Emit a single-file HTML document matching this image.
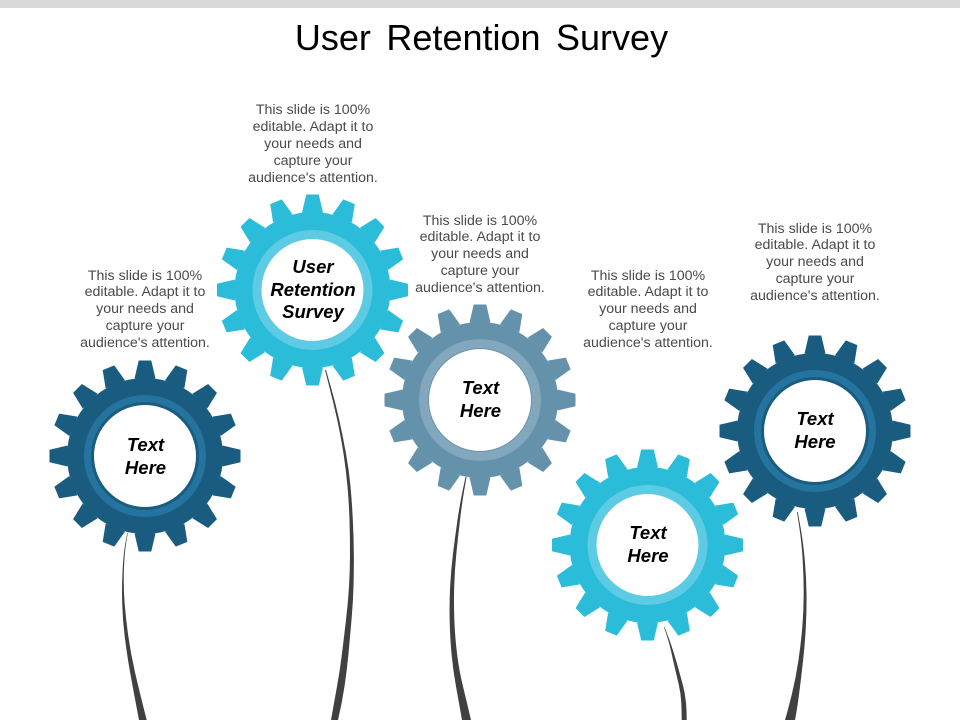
<!DOCTYPE html>
<html><head><meta charset="utf-8"><style>
html,body{margin:0;padding:0;background:#fff}
svg{display:block}
.t{font-family:"Liberation Sans",sans-serif;font-size:36px;fill:#000;word-spacing:5.5px}
.b{font-family:"Liberation Sans",sans-serif;font-size:14.2px;fill:#4a4a4a;text-anchor:middle}
.l{font-family:"Liberation Sans",sans-serif;font-size:18.5px;font-weight:bold;font-style:italic;fill:#000;text-anchor:middle}
</style></head><body>
<svg width="960" height="720" viewBox="0 0 960 720" xmlns="http://www.w3.org/2000/svg">
<defs>
<g id="gear">
<circle r="78"/>
<polygon id="tooth" points="-10.500,-77.500 -6.250,-95.500 6.250,-95.500 10.500,-77.500"/>
<use href="#tooth" transform="rotate(22.5)"/><use href="#tooth" transform="rotate(45)"/><use href="#tooth" transform="rotate(67.5)"/>
<use href="#tooth" transform="rotate(90)"/><use href="#tooth" transform="rotate(112.5)"/><use href="#tooth" transform="rotate(135)"/>
<use href="#tooth" transform="rotate(157.5)"/><use href="#tooth" transform="rotate(180)"/><use href="#tooth" transform="rotate(202.5)"/>
<use href="#tooth" transform="rotate(225)"/><use href="#tooth" transform="rotate(247.5)"/><use href="#tooth" transform="rotate(270)"/>
<use href="#tooth" transform="rotate(292.5)"/><use href="#tooth" transform="rotate(315)"/><use href="#tooth" transform="rotate(337.5)"/>
</g>
</defs>
<rect width="960" height="720" fill="#fff"/>
<rect width="960" height="8" fill="#d9d9d9"/>
<text class="t" x="481.5" y="50" text-anchor="middle">User Retention Survey</text>

<g fill="#404040">
<path d="M127.3,533 L125.4,543 Q123.5,553 122.6,570 Q121.7,587 122.2,603.5 Q122.7,620 124.7,636.5 Q126.7,653 129.7,670 Q132.7,687 139,720 L146.7,720 Q138.3,687 134.5,670 Q130.7,653 128.35,636.5 Q126,620 124.65,603.5 Q123.3,587 123.9,570 Q124.5,553 126.15,543 L127.8,533Z"/>
<path d="M325,370 L329.25,386.5 Q333.5,403 337.25,420 Q341,437 343.5,453.5 Q346,470 347.5,486.5 Q349,503 349.5,520 Q350,537 350,553.5 Q350,570 349,586.5 Q348,603 346,620 Q344,637 342,653.5 Q340,670 337,686.5 Q334,703 331,720 L338,720 Q342,703 344.5,686.5 Q347,670 348.5,653.5 Q350,637 351.5,620 Q353,603 353.5,586.5 Q354,570 353.85,553.5 Q353.7,537 352.85,520 Q352,503 350.5,486.5 Q349,470 346,453.5 Q343,437 339.25,420 Q335.5,403 330.75,386.5 L326,370Z"/>
<path d="M465.5,477 L462.75,490 Q460,503 457.5,520 Q455,537 453,553.5 Q451,570 450.15,586.5 Q449.3,603 449.65,620 Q450,637 451.5,653.5 Q453,670 456,686.5 Q459,703 462,720 L471,720 Q467,703 463,686.5 Q459,670 457,653.5 Q455,637 454.35,620 Q453.7,603 454.2,586.5 Q454.7,570 456.35,553.5 Q458,537 460,520 Q462,503 464.25,490 L466.5,477Z"/>
<path d="M664,627 L666.65,635 Q669.3,643 671.15,651.5 Q673,660 675,668.5 Q677,677 678.85,685 Q680.7,693 681.2,701.5 Q681.7,710 681.7,720 L686.7,720 Q686.7,710 685.85,701.5 Q685,693 682.85,685 Q680.7,677 678.35,668.5 Q676,660 673.35,651.5 Q670.7,643 667.6,635 L664.5,627Z"/>
<path d="M797,512 L799.35,527.5 Q801.7,543 802.7,560 Q803.7,577 803.7,593.5 Q803.7,610 802.35,626.5 Q801,643 798.5,660 Q796,677 792,693.5 Q788,710 785,720 L795,720 Q797,710 799.15,693.5 Q801.3,677 803.15,660 Q805,643 805.85,626.5 Q806.7,610 806.5,593.5 Q806.3,577 804.8,560 Q803.3,543 800.55,527.5 L797.8,512Z"/>
</g>

<g transform="translate(145,456)" fill="#1a5c7f"><use href="#gear"/><circle r="57.5" fill="none" stroke="#24749f" stroke-width="7"/><circle r="51" fill="#fff"/></g>
<g transform="translate(312.500,290)" fill="#2bbcd9"><use href="#gear"/><circle r="55.5" fill="none" stroke="#5ccbe3" stroke-width="9"/><circle r="51" fill="#fff"/></g>
<g transform="translate(480,400)" fill="#6592ab"><use href="#gear"/><circle r="56.5" fill="none" stroke="#83a8bd" stroke-width="9"/><circle r="51" fill="#fff"/></g>
<g transform="translate(647.500,545)" fill="#2bbcd9"><use href="#gear"/><circle r="55.5" fill="none" stroke="#5ccbe3" stroke-width="9"/><circle r="51" fill="#fff"/></g>
<g transform="translate(815,431)" fill="#1a5c7f"><use href="#gear"/><circle r="57.5" fill="none" stroke="#24749f" stroke-width="7"/><circle r="51" fill="#fff"/></g>

<text class="l" x="145.500" y="451">Text</text><text class="l" x="145.500" y="474">Here</text>
<text class="l" x="313" y="273">User</text><text class="l" x="313" y="296">Retention</text><text class="l" x="313" y="318">Survey</text>
<text class="l" x="480.500" y="394">Text</text><text class="l" x="480.500" y="417">Here</text>
<text class="l" x="648" y="539">Text</text><text class="l" x="648" y="562">Here</text>
<text class="l" x="815" y="425">Text</text><text class="l" x="815" y="448">Here</text>

<text class="b" x="145" y="280">This slide is 100%</text><text class="b" x="145" y="296">editable. Adapt it to</text><text class="b" x="145" y="313">your needs and</text><text class="b" x="145" y="330">capture your</text><text class="b" x="145" y="347">audience's attention.</text>
<text class="b" x="313" y="114">This slide is 100%</text><text class="b" x="313" y="131">editable. Adapt it to</text><text class="b" x="313" y="148">your needs and</text><text class="b" x="313" y="165">capture your</text><text class="b" x="313" y="182">audience's attention.</text>
<text class="b" x="480" y="225">This slide is 100%</text><text class="b" x="480" y="241">editable. Adapt it to</text><text class="b" x="480" y="258">your needs and</text><text class="b" x="480" y="275">capture your</text><text class="b" x="480" y="292">audience's attention.</text>
<text class="b" x="648" y="280">This slide is 100%</text><text class="b" x="648" y="296">editable. Adapt it to</text><text class="b" x="648" y="313">your needs and</text><text class="b" x="648" y="330">capture your</text><text class="b" x="648" y="347">audience's attention.</text>
<text class="b" x="815" y="233">This slide is 100%</text><text class="b" x="815" y="249">editable. Adapt it to</text><text class="b" x="815" y="266">your needs and</text><text class="b" x="815" y="283">capture your</text><text class="b" x="815" y="300">audience's attention.</text>
</svg>
</body></html>
